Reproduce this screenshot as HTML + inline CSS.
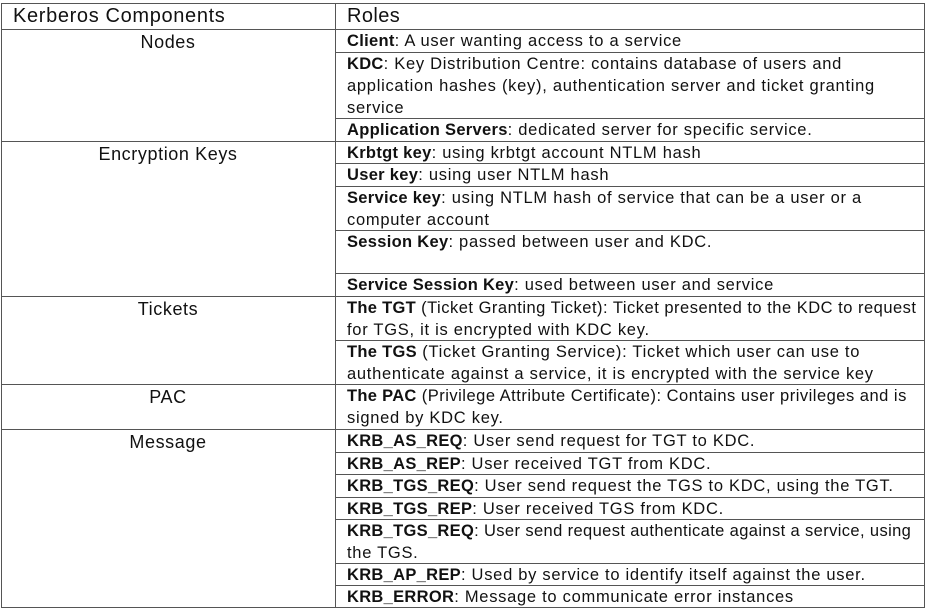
<!DOCTYPE html>
<html><head><meta charset="utf-8"><style>
body{margin:0;width:928px;height:610px;background:#fff;position:relative;overflow:hidden;font-family:"Liberation Sans",sans-serif;color:#111}
.h{position:absolute;height:0;border-top:1.5px solid #555}
.v{position:absolute;width:0;border-left:1.5px solid #555}
.t{position:absolute;left:347px;font-size:16.5px;line-height:22px;white-space:nowrap;letter-spacing:0.72px}
.l{position:absolute;left:1px;width:334px;text-align:center;font-size:18px;line-height:22px;letter-spacing:0.6px}
b{font-weight:bold;letter-spacing:0.3px}
.n1{letter-spacing:0.5px}
.n2{letter-spacing:0.38px}
</style></head><body>
<div class="h" style="top:3px;left:1px;width:924px"></div>
<div class="h" style="top:29px;left:1px;width:924px"></div>
<div class="h" style="top:141px;left:1px;width:924px"></div>
<div class="h" style="top:296px;left:1px;width:924px"></div>
<div class="h" style="top:384px;left:1px;width:924px"></div>
<div class="h" style="top:429px;left:1px;width:924px"></div>
<div class="h" style="top:607px;left:1px;width:924px"></div>
<div class="h" style="top:52px;left:335px;width:590px"></div>
<div class="h" style="top:118px;left:335px;width:590px"></div>
<div class="h" style="top:163px;left:335px;width:590px"></div>
<div class="h" style="top:186px;left:335px;width:590px"></div>
<div class="h" style="top:230px;left:335px;width:590px"></div>
<div class="h" style="top:273px;left:335px;width:590px"></div>
<div class="h" style="top:340px;left:335px;width:590px"></div>
<div class="h" style="top:452px;left:335px;width:590px"></div>
<div class="h" style="top:474px;left:335px;width:590px"></div>
<div class="h" style="top:497px;left:335px;width:590px"></div>
<div class="h" style="top:519px;left:335px;width:590px"></div>
<div class="h" style="top:563px;left:335px;width:590px"></div>
<div class="h" style="top:585px;left:335px;width:590px"></div>
<div class="v" style="left:1px;top:3px;height:605px"></div>
<div class="v" style="left:335px;top:3px;height:605px"></div>
<div class="v" style="left:924px;top:3px;height:605px"></div>

<div style="position:absolute;left:13px;top:3px;font-size:20px;line-height:26px;letter-spacing:0.65px">Kerberos Components</div>
<div style="position:absolute;left:347px;top:3px;font-size:20px;line-height:26px;letter-spacing:0.4px">Roles</div>

<div class="l" style="top:31px">Nodes</div>
<div class="l" style="top:143px">Encryption Keys</div>
<div class="l" style="top:298px">Tickets</div>
<div class="l" style="top:386px">PAC</div>
<div class="l" style="top:431px">Message</div>

<div class="t" style="top:30px"><b>Client</b>: A user wanting access to a service</div>
<div class="t" style="top:53px"><b>KDC</b>: Key Distribution Centre: contains database of users and<br>application hashes (key), authentication server and ticket granting<br>service</div>
<div class="t" style="top:119px"><b>Application Servers</b>: dedicated server for specific service.</div>
<div class="t" style="top:142px"><b>Krbtgt key</b>: using krbtgt account NTLM hash</div>
<div class="t" style="top:164px"><b>User key</b>: using user NTLM hash</div>
<div class="t" style="top:187px"><b>Service key</b>: using NTLM hash of service that can be a user or a<br>computer account</div>
<div class="t" style="top:231px"><b>Session Key</b>: passed between user and KDC.</div>
<div class="t" style="top:274px"><b>Service Session Key</b>: used between user and service</div>
<div class="t" style="top:297px"><b>The TGT</b><span class="n1"> (Ticket Granting Ticket): Ticket presented to the KDC to request</span><br>for TGS, it is encrypted with KDC key.</div>
<div class="t" style="top:341px"><b>The TGS</b> (Ticket Granting Service): Ticket which user can use to<br>authenticate against a service, it is encrypted with the service key</div>
<div class="t" style="top:385px"><b>The PAC</b><span class="n1"> (Privilege Attribute Certificate): Contains user privileges and is</span><br>signed by KDC key.</div>
<div class="t" style="top:430px"><b>KRB_AS_REQ</b>: User send request for TGT to KDC.</div>
<div class="t" style="top:453px"><b>KRB_AS_REP</b>: User received TGT from KDC.</div>
<div class="t" style="top:475px"><b>KRB_TGS_REQ</b>: User send request the TGS to KDC, using the TGT.</div>
<div class="t" style="top:498px"><b>KRB_TGS_REP</b>: User received TGS from KDC.</div>
<div class="t" style="top:520px"><b>KRB_TGS_REQ</b><span class="n2">: User send request authenticate against a service, using</span><br>the TGS.</div>
<div class="t" style="top:564px"><b>KRB_AP_REP</b>: Used by service to identify itself against the user.</div>
<div class="t" style="top:586px"><b>KRB_ERROR</b>: Message to communicate error instances</div>
</body></html>
